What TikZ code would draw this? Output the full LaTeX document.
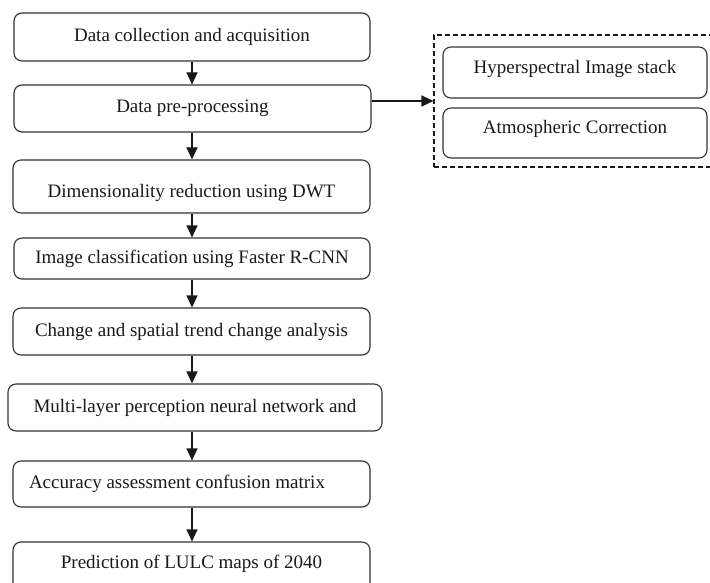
\documentclass[tikz,border=0pt]{standalone}
\usepackage{fontspec}
\setmainfont{Liberation Serif}
\usetikzlibrary{arrows.meta}

\begin{document}
\begin{tikzpicture}[x=1pt,y=-1pt,
    stepbox/.style={draw=black!80,line width=1.1pt,rounded corners=8pt,inner sep=0pt,
        font=\fontsize{19}{23}\selectfont,text=black!90},
    arr/.style={-{Triangle[length=12pt,width=11pt]},line width=1.1pt,draw=black!90},
    group/.style={draw=black!90,line width=1.1pt,dash pattern=on 5pt off 3pt,inner sep=0pt}]
    \useasboundingbox (0,0) rectangle (710,583);
    \clip (0,0) rectangle (710,583);

    % Main processing chain
    \node[stepbox,minimum width=356pt,minimum height=48pt] (collect) at (192,37) {Data collection and acquisition};
    \node[stepbox,minimum width=357pt,minimum height=47pt] (prep) at (192.5,108.5) {Data pre-processing};
    \node[stepbox,minimum width=357pt,minimum height=53pt,text height=27pt] (dwt) at (191.5,186.5) {Dimensionality reduction using DWT};
    \node[stepbox,minimum width=356pt,minimum height=41pt] (rcnn) at (192,258.5) {Image classification using Faster R-CNN};
    \node[stepbox,minimum width=357pt,minimum height=47pt] (trend) at (191.5,331.5) {Change and spatial trend change analysis};
    \node[stepbox,minimum width=374pt,minimum height=47pt] (mlp) at (195,407.5) {Multi-layer perception neural network and};
    \node[stepbox,minimum width=357pt,minimum height=46pt] (acc) at (191.5,484) {Accuracy assessment confusion matrix\hspace*{29pt}};
    \node[stepbox,minimum width=357pt,minimum height=60pt,text depth=21pt] (pred) at (191.5,572) {Prediction of LULC maps of 2040};

    % Pre-processing details
    \node[group,minimum width=306pt,minimum height=132pt] (grp) at (587,101) {};
    \node[stepbox,minimum width=264pt,minimum height=51pt,text depth=12pt] (hsi) at (575,72.5) {Hyperspectral Image stack};
    \node[stepbox,minimum width=264pt,minimum height=50pt,text depth=12pt] (atm) at (575,133) {Atmospheric Correction};

    % Arrows
    \foreach \a/\b in {collect/prep,prep/dwt,dwt/rcnn,rcnn/trend,trend/mlp,mlp/acc,acc/pred}
        \draw[arr] (\a.south -| collect.south) -- (\b.north -| collect.south);
    \draw[arr] (prep.east |- grp.west) -- (grp.west);
\end{tikzpicture}
\end{document}
